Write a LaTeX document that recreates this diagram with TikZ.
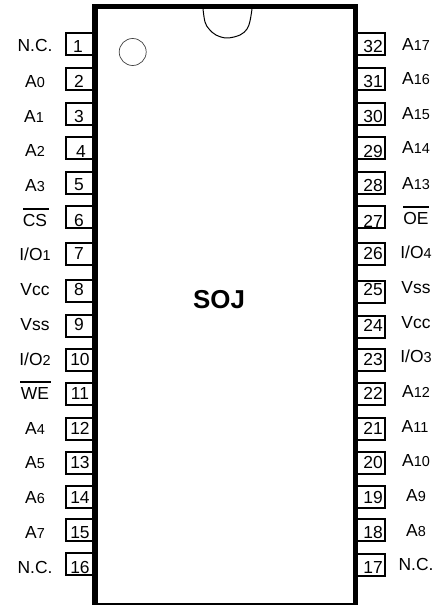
\documentclass[tikz,border=0pt]{standalone}
\usepackage{fontspec}
\setmainfont{Liberation Sans}
\begin{document}
\begin{tikzpicture}[x=1bp,y=-1bp,
  pinbox/.style={line width=1.8bp,line join=miter},
  wall/.style={fill=black,draw=none},
  numtext/.style={anchor=base,inner sep=0pt,font=\fontsize{17.5}{17.5}\selectfont},
  pinlabel/.style={anchor=base,inner sep=0pt,font=\fontsize{17.5}{17.5}\selectfont},
  bar/.style={line width=2bp}]
\newcommand{\sbs}[1]{{\fontsize{14.5}{14.5}\selectfont #1}}
\useasboundingbox (0,0) rectangle (438,605);
\fill[white] (0,0) rectangle (438,605);
% left pins: number / top / number x / number centre y
\foreach \n/\t/\nx/\cy in {1/33/78/46,2/68/79/81,3/103/79/116,4/137/81/151,5/172/79/184,6/206/79/220,7/243/79/253,8/280/79/289,9/315/79/324,10/349/80/359,11/383/80/393,12/418/80/428,13/452/80/462,14/486/80/497,15/519/80/532,16/553/80/567}{
  \draw[pinbox] (92,\t) -- (66,\t) -- (66,\t+22) -- (92,\t+22);
  \node[numtext] (pin\n) at (\nx,\cy+6.2) {\n};
}
% right pins
\foreach \n/\t/\cy in {32/33/46,31/68/81,30/103/116,29/137/151,28/172/185,27/206/221,26/243/253,25/281/289,24/316/325,23/349/359,22/383/393,21/418/428,20/452/462,19/486/497,18/519/532,17/554/567}{
  \draw[pinbox] (358,\t) -- (385,\t) -- (385,\t+22) -- (358,\t+22);
  \node[numtext] (pin\n) at (373,\cy+6.2) {\n};
}
% package body
\fill[wall] (92,4) rectangle (358,9.5);
\fill[wall] (92,4) rectangle (98,605);
\fill[wall] (353,4) rectangle (358,605);
\fill[wall] (92,603.3) rectangle (358,604.8);
% notch and index mark
\draw[line width=1bp,line join=round] plot[smooth,tension=0.6] coordinates {(203,9) (205,22) (209,29) (216,35) (227,38) (240,35) (247,29) (250,21) (252,9)};
\node[circle,draw=black!75,line width=0.7bp,minimum size=27bp,inner sep=0pt] (mark) at (132.7,52) {};
\node[anchor=base,inner sep=0pt,font=\fontsize{26}{26}\selectfont\bfseries] (title) at (219,308) {SOJ};
% left labels
\node[pinlabel] (l1) at (35,51.7) {N.C.};
\node[pinlabel] (l2) at (35,87.5) {A\sbs{0}};
\node[pinlabel] (l3) at (34,122.5) {A\sbs{1}};
\node[pinlabel] (l4) at (35,157) {A\sbs{2}};
\node[pinlabel] (l5) at (35,191.5) {A\sbs{3}};
\node[pinlabel] (l6) at (35,226) {CS};
\node[pinlabel] (l7) at (35,260) {I/O\sbs{1}};
\node[pinlabel] (l8) at (35,295) {Vcc};
\node[pinlabel] (l9) at (35,330) {Vss};
\node[pinlabel] (l10) at (35,365) {I/O\sbs{2}};
\node[pinlabel] (l11) at (35,399) {WE};
\node[pinlabel] (l12) at (35,434) {A\sbs{4}};
\node[pinlabel] (l13) at (35,468) {A\sbs{5}};
\node[pinlabel] (l14) at (35,503) {A\sbs{6}};
\node[pinlabel] (l15) at (35,538) {A\sbs{7}};
\node[pinlabel] (l16) at (35,573) {N.C.};
% right labels
\node[pinlabel] (r32) at (416,50.5) {A\sbs{17}};
\node[pinlabel] (r31) at (416,85) {A\sbs{16}};
\node[pinlabel] (r30) at (416,120) {A\sbs{15}};
\node[pinlabel] (r29) at (416,154) {A\sbs{14}};
\node[pinlabel] (r28) at (416,189) {A\sbs{13}};
\node[pinlabel] (r27) at (416,224) {OE};
\node[pinlabel] (r26) at (416,258) {I/O\sbs{4}};
\node[pinlabel] (r25) at (416,293) {Vss};
\node[pinlabel] (r24) at (416,328.5) {Vcc};
\node[pinlabel] (r23) at (416,362.5) {I/O\sbs{3}};
\node[pinlabel] (r22) at (416,397) {A\sbs{12}};
\node[pinlabel] (r21) at (415,432) {A\sbs{11}};
\node[pinlabel] (r20) at (416,466.5) {A\sbs{10}};
\node[pinlabel] (r19) at (416,501.5) {A\sbs{9}};
\node[pinlabel] (r18) at (416,536) {A\sbs{8}};
\node[pinlabel] (r17) at (416,570) {N.C.};
% overbars
\draw[bar] (23,209) -- (49,209);
\draw[bar] (20,382) -- (51,382);
\draw[bar] (403,207) -- (429,207);
\end{tikzpicture}
\end{document}
